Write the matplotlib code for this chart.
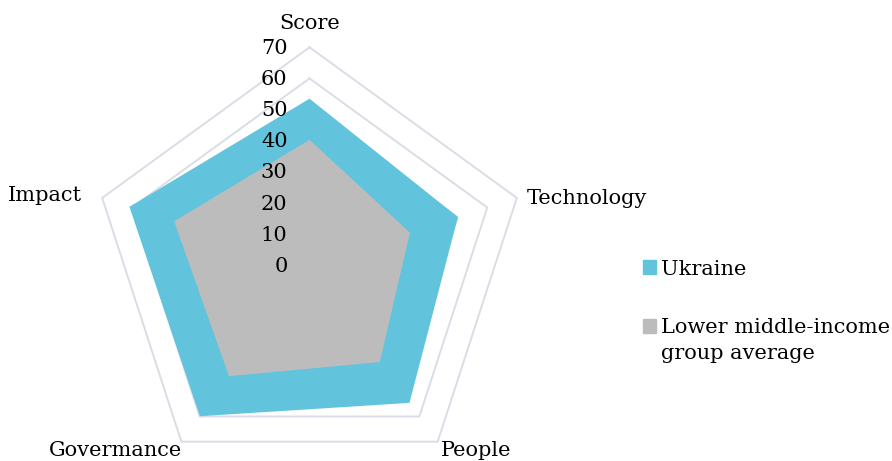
import numpy as np
import matplotlib.pyplot as plt
from matplotlib.patches import Patch
from matplotlib.text import Annotation

categories = ['Score', 'Technology', 'People', 'Govermance', 'Impact']
ukraine = [53.5, 50.1, 54.6, 59.9, 60.8]
lower_middle = [40.3, 33.9, 38.4, 44.0, 45.7]
r_ticks = [0, 10, 20, 30, 40, 50, 60, 70]
series_labels = ['Ukraine', 'Lower middle-income']
label_second_line = 'group average'   # wraps under the grey entry

col_ukr = '#61c4dc'
col_lmi = '#bcbcbc'
col_grid = '#d9dde5'

plt.rcParams['font.family'] = ['DejaVu Serif']
fs = 15

fig = plt.figure(figsize=(8.92, 4.61), dpi=100)
ax = fig.add_axes([0.1026, -0.0484, 0.4888, 0.9458], projection='polar')
ax.set_theta_offset(np.pi / 2)
ax.set_theta_direction(-1)
ax.set_ylim(0, 70)
ax.set_facecolor('none')
ax.spines['polar'].set_visible(False)
ax.grid(False)
ax.set_xticks([])
ax.set_yticks([])

angles = np.linspace(0, 2 * np.pi, len(categories), endpoint=False)
closed = np.append(angles, angles[0])

# pentagon grid, under the fills
for lvl in r_ticks[1:]:
    ax.plot(closed, [lvl] * len(closed), color=col_grid, lw=1.4, zorder=1, clip_on=False)

ax.fill(angles, ukraine, color=col_ukr, lw=0, zorder=2)
ax.fill(angles, lower_middle, color=col_lmi, lw=0, zorder=3)

# radial value labels left of the vertical axis
for r in r_ticks:
    ax.annotate(str(r), xy=(0, r), xytext=(-22, -1), textcoords='offset pixels',
                ha='right', va='center', fontsize=fs, zorder=5, annotation_clip=False)

# category labels
offsets = [((0, 24), 'center', 'center'),
           ((10, -1), 'left', 'center'),
           ((3, -9), 'left', 'center'),
           ((1, -9), 'right', 'center'),
           ((-20, 2), 'right', 'center')]
for a, name, (off, ha, va) in zip(angles, categories, offsets):
    ax.annotate(name, xy=(a, 70), xytext=off, textcoords='offset pixels',
                ha=ha, va=va, fontsize=fs, annotation_clip=False)

handles = [Patch(color=col_ukr), Patch(color=col_lmi)]
leg = fig.legend(handles, series_labels, loc='upper left', bbox_to_anchor=(0.721, 0.437),
                 frameon=False, fontsize=fs, handlelength=0.62, handleheight=0.62,
                 handletextpad=0.25, labelspacing=1.9, borderpad=0, borderaxespad=0)

# second line of the grey label, hung under the legend text
ann = Annotation(label_second_line, xy=(0, 0), xycoords=leg.get_texts()[1],
                 xytext=(0, -22), textcoords='offset pixels', ha='left', va='baseline',
                 fontsize=fs, annotation_clip=False)
ann.set_zorder(6)
fig.add_artist(ann)

fig.savefig('out.png', dpi=100)
